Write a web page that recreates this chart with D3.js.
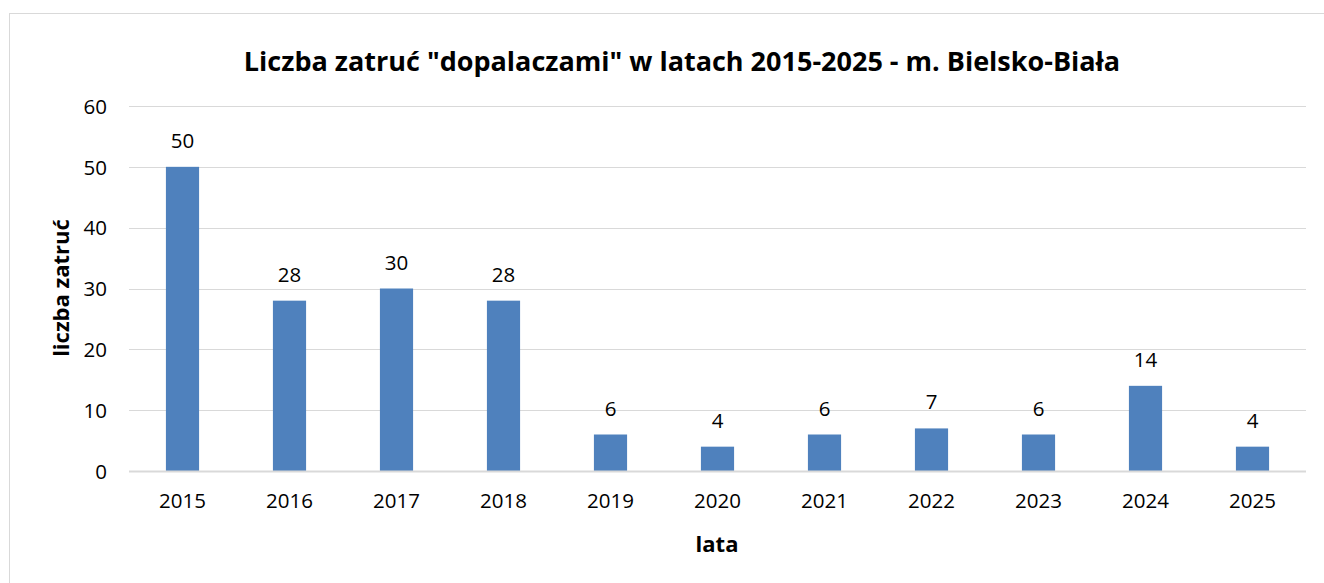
<!DOCTYPE html>
<html>
<head>
<meta charset="utf-8">
<script src="https://cdn.jsdelivr.net/npm/d3@7/dist/d3.min.js"></script>
<style>
  html, body { margin: 0; padding: 0; background: #fff; }
  svg { display: block; font-family: "Open Sans", sans-serif; }
</style>
</head>
<body>
<svg id="chart" width="1324" height="583"></svg>
<script>
const years = ["2015","2016","2017","2018","2019","2020","2021","2022","2023","2024","2025"];
const cases = [50, 28, 30, 28, 6, 4, 6, 7, 6, 14, 4];
const yTicks = [0, 10, 20, 30, 40, 50, 60];

const titleText = 'Liczba zatruć "dopalaczami" w latach 2015-2025 - m. Bielsko-Biała';
const yTitle = "liczba zatruć";
const xTitle = "lata";

const FONT = '"Open Sans", sans-serif';
const svg = d3.select("#chart");

// outer chart frame
svg.append("rect")
  .attr("x", 9.5).attr("y", 13.5)
  .attr("width", 1330).attr("height", 600)
  .attr("fill", "#fff").attr("stroke", "#d9d9d9").attr("stroke-width", 1);

const plot = { left: 129, right: 1306, top: 106, bottom: 471 };

const x = d3.scaleBand().domain(years).range([plot.left, plot.right]).paddingInner(0.69).paddingOuter(0.345);
const y = d3.scaleLinear().domain([0, 60]).range([plot.bottom, plot.top]);

// horizontal gridlines
svg.append("g").selectAll("line").data(yTicks.filter(d => d > 0)).join("line")
  .attr("x1", plot.left).attr("x2", plot.right)
  .attr("y1", d => Math.round(y(d)) + 0.5).attr("y2", d => Math.round(y(d)) + 0.5)
  .attr("stroke", "#d9d9d9").attr("stroke-width", 1);

// y axis labels
const yAxis = d3.axisLeft(y).tickValues(yTicks).tickSize(0).tickPadding(0);
svg.append("g")
  .attr("transform", `translate(${plot.left - 22},0)`)
  .call(yAxis)
  .call(g => g.select(".domain").remove())
  .call(g => g.selectAll("text").attr("font-size", 20.5).attr("fill", "#000").attr("font-family", FONT).attr("dy", "0.35em"));

// bars
svg.append("g").selectAll("rect").data(years).join("rect")
  .attr("x", d => x(d))
  .attr("width", x.bandwidth())
  .attr("y", (d, i) => y(cases[i]))
  .attr("height", (d, i) => y(0) - y(cases[i]))
  .attr("fill", "#4f81bd");

// category axis baseline
svg.append("line")
  .attr("x1", plot.left).attr("x2", plot.right)
  .attr("y1", plot.bottom + 0.5).attr("y2", plot.bottom + 0.5)
  .attr("stroke", "#d9d9d9").attr("stroke-width", 2);

// x axis labels
const xAxis = d3.axisBottom(x).tickSize(0).tickPadding(0);
svg.append("g")
  .attr("transform", `translate(0,${plot.bottom + 30})`)
  .call(xAxis)
  .call(g => g.select(".domain").remove())
  .call(g => g.selectAll("text").attr("font-size", 20.5).attr("fill", "#000").attr("font-family", FONT).attr("dy", "0.35em"));

// value labels
svg.append("g").selectAll("text").data(years).join("text")
  .attr("x", d => x(d) + x.bandwidth() / 2)
  .attr("y", (d, i) => y(cases[i]) - 27)
  .attr("text-anchor", "middle")
  .attr("dominant-baseline", "central")
  .attr("font-size", 20.5)
  .attr("fill", "#000")
  .text((d, i) => cases[i]);

// title
svg.append("text")
  .attr("x", 682).attr("y", 60)
  .attr("text-anchor", "middle").attr("dominant-baseline", "central")
  .attr("font-size", 27).attr("font-weight", "bold").attr("fill", "#000")
  .text(titleText);

// axis titles
svg.append("text")
  .attr("x", 717).attr("y", 543)
  .attr("text-anchor", "middle").attr("dominant-baseline", "central")
  .attr("font-size", 22).attr("font-weight", "bold").attr("fill", "#000")
  .text(xTitle);

svg.append("text")
  .attr("transform", "translate(60,288) rotate(-90)")
  .attr("text-anchor", "middle").attr("dominant-baseline", "central")
  .attr("font-size", 22).attr("font-weight", "bold").attr("fill", "#000")
  .text(yTitle);
</script>
</body>
</html>
